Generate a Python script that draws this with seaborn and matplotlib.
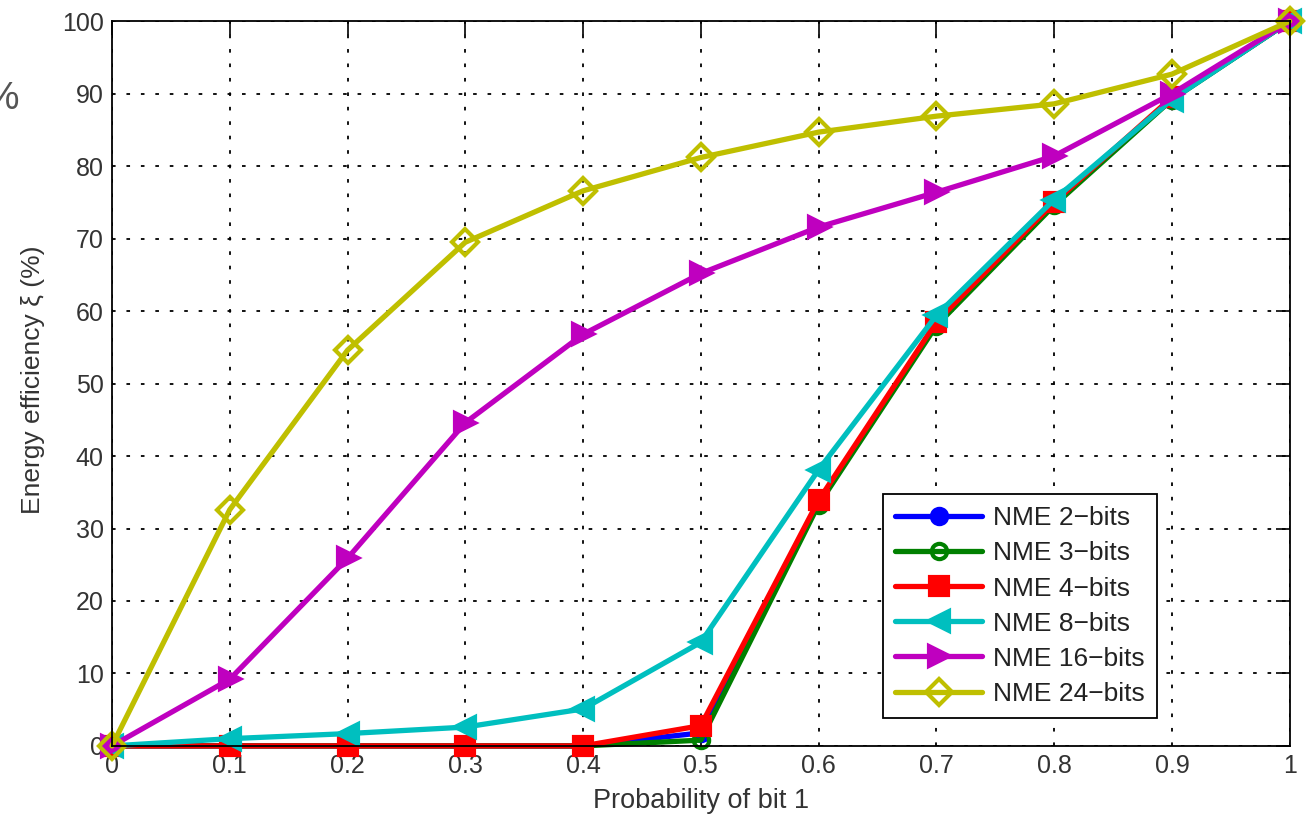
import numpy as np
import pandas as pd
import matplotlib
matplotlib.use("Agg")
import matplotlib.pyplot as plt
import seaborn as sns

# data
prob = [0, 0.1, 0.2, 0.3, 0.4, 0.5, 0.6, 0.7, 0.8, 0.9, 1.0]
nme2 = [0, 0, 0, 0, 0, 1.8, 33.5, 58.3, 74.8, 89.3, 100]
nme3 = [0, 0, 0, 0, 0, 0.8, 33.3, 58.0, 74.6, 89.2, 100]
nme4 = [0, 0, 0, 0, 0, 2.8, 33.9, 58.5, 75.0, 89.5, 100]
nme8 = [0, 1.0, 1.7, 2.6, 5.1, 14.3, 38.1, 59.4, 75.4, 89.2, 100]
nme16 = [0, 9.2, 25.9, 44.6, 56.8, 65.2, 71.6, 76.4, 81.4, 90.0, 100]
nme24 = [0, 32.6, 54.6, 69.5, 76.6, 81.2, 84.7, 86.9, 88.6, 92.7, 100]

labels = ["NME 2\u2212bits", "NME 3\u2212bits", "NME 4\u2212bits",
          "NME 8\u2212bits", "NME 16\u2212bits", "NME 24\u2212bits"]
series = [nme2, nme3, nme4, nme8, nme16, nme24]
colors = ["#0000ff", "#008000", "#ff0000", "#00bfbf", "#bf00bf", "#bfbf00"]
markers = ["o", "o", "s", "<", ">", "D"]
filled = [True, False, True, True, True, False]
msizes = [11, 11, 13, 15, 15, 13]

txt_col = "#333333"

sns.set_theme(style="white")
plt.rcParams["font.family"] = ["Liberation Sans", "DejaVu Sans"]

fig = plt.figure(figsize=(13.08, 8.17), dpi=100)
ax = fig.add_axes([0.0856, 0.087, 0.9004, 0.887])

for vals, lab, c, m, f, ms in zip(series, labels, colors, markers, filled, msizes):
    df = pd.DataFrame({"p": prob, "eff": vals})
    sns.lineplot(data=df, x="p", y="eff", ax=ax, color=c, lw=3.8,
                 marker=m, markersize=ms, markeredgewidth=3,
                 markerfacecolor=c if f else "none", markeredgecolor=c,
                 label=lab, clip_on=False)

ax.set_xlim(0, 1)
ax.set_ylim(0, 100)
ax.set_xticks(prob)
ax.set_xticklabels(["0", "0.1", "0.2", "0.3", "0.4", "0.5", "0.6", "0.7", "0.8", "0.9", "1"])
ax.set_yticks(range(0, 101, 10))
ax.tick_params(direction="in", top=True, right=True, length=10, width=1.2,
               labelsize=18, color="black", labelcolor=txt_col, pad=6)
for s in ax.spines.values():
    s.set_color("black")
    s.set_linewidth(1.3)
ax.grid(True, color="black", linestyle=(0, (2, 6)), linewidth=1.3)

ax.set_xlabel("Probability of bit 1", fontsize=19.5, color=txt_col)
ax.set_ylabel("Energy efficiency \u03be (%)", fontsize=19, color=txt_col)
ax.xaxis.set_label_coords(0.5, -0.058)
ax.yaxis.set_label_coords(-0.057, 0.505)

leg = ax.legend(loc="lower right", bbox_to_anchor=(0.887, 0.039), fontsize=19,
                frameon=True, fancybox=False, edgecolor="black", framealpha=1,
                handlelength=3.3, borderpad=0.45, labelspacing=0.42, handletextpad=0.4,
                borderaxespad=0)
leg.get_frame().set_linewidth(1.3)
for t in leg.get_texts():
    t.set_color("#222222")

fig.text(-0.012, 0.879, "%", fontsize=28, color="#555555", va="center")

fig.savefig("out.png", dpi=100)
